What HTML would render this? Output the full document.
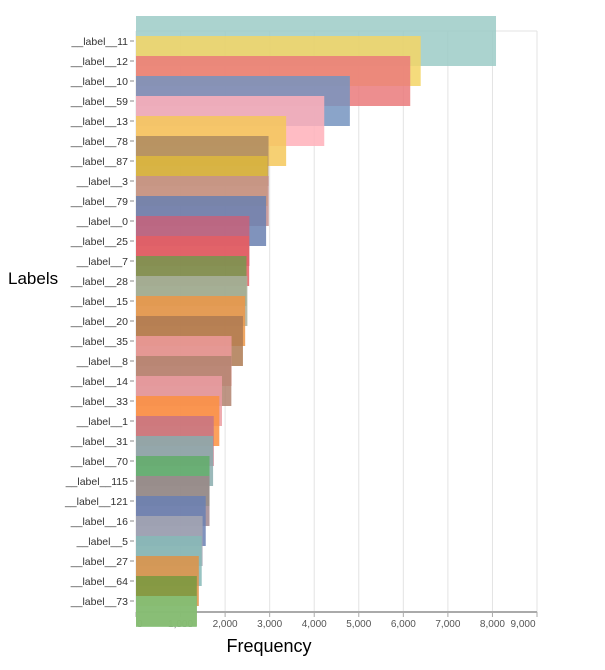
<!DOCTYPE html>
<html><head><meta charset="utf-8"><style>
body{margin:0;background:#fff;}
svg{display:block;font-family:"Liberation Sans",sans-serif;}
</style></head><body>
<svg id="chart" width="605" height="670"></svg>
<script>
const labels=["__label__hidden","__label__11","__label__12","__label__10","__label__59","__label__13","__label__78","__label__87","__label__3","__label__79","__label__0","__label__25","__label__7","__label__28","__label__15","__label__20","__label__35","__label__8","__label__14","__label__33","__label__1","__label__31","__label__70","__label__115","__label__121","__label__16","__label__5","__label__27","__label__64","__label__73"];
const values=[8080,6390,6155,4800,4225,3370,2975,2955,2980,2920,2545,2540,2480,2500,2450,2400,2145,2140,1930,1870,1745,1730,1650,1650,1565,1495,1475,1410,1365,1365];
const colors=["#9ccbc7","#f3d565","#ea7a7b","#7694c0","#ffb0ba","#f5c85a","#ad8a60","#ddb83c","#c4908f","#6a80b0","#c7627a","#e55f63","#76974f","#a9b09e","#ec9646","#ae7a52","#ec9a9b","#b2836f","#eb9ca2","#fb9140","#c57485","#8aadae","#62ad68","#a0878f","#6a80b3","#a6a6b3","#86bab7","#df9245","#77993f","#88c27a"];
const xTicks=[0,1000,2000,3000,4000,5000,6000,7000,8000,9000];
const NS="http://www.w3.org/2000/svg";
const svg=document.getElementById('chart');
const X0=136,X1=537,XMAX=9000,Y0=21,STEP=20,TOP=31,BOT=612;
const x=v=>X0+(v/XMAX)*(X1-X0);
const y=i=>Y0+i*STEP;
function mk(t,a){const e=document.createElementNS(NS,t);for(const k in a)e.setAttribute(k,a[k]);svg.appendChild(e);return e;}
const defs=mk('defs',{});
const cp=document.createElementNS(NS,'clipPath');cp.setAttribute('id','clip');defs.appendChild(cp);
const cr=document.createElementNS(NS,'rect');cr.setAttribute('x',0);cr.setAttribute('y',16);cr.setAttribute('width',605);cr.setAttribute('height',611);cp.appendChild(cr);
let fr=mk('line',{x1:X0,x2:X1,y1:TOP,y2:TOP,stroke:'#e3e3e3','stroke-width':1});


xTicks.forEach(t=>{
  const g=mk('line',{x1:x(t),x2:x(t),y1:TOP,y2:BOT,stroke:'#e3e3e3','stroke-width':1});
  
  
  const tl=mk('text',{x:x(t)+(t===0?1:(t===9000?-14:0)),y:627,'font-size':10,fill:'#555','text-anchor':t===0?'start':'middle'});
  tl.textContent=t.toLocaleString('en-US');
  
  
  const tk=mk('line',{x1:x(t),x2:x(t),y1:BOT,y2:BOT+5,stroke:'#aaa','stroke-width':1});
  
  
});
const ax=mk('line',{x1:X0,x2:X1,y1:BOT,y2:BOT,stroke:'#aaa','stroke-width':2});


labels.forEach((l,i)=>{
  if(i===0)return;
  const t=mk('text',{x:128,y:y(i)+4,'font-size':10.5,fill:'#333','text-anchor':'end'});
  t.textContent=l;
  
  
  const tk=mk('line',{x1:130,x2:134,y1:y(i),y2:y(i),stroke:'#888','stroke-width':1});
  
  
});
const bg=mk('g',{'clip-path':'url(#clip)'});
values.forEach((v,i)=>{
  const r=document.createElementNS(NS,'rect');
  r.setAttribute('x',X0);r.setAttribute('y',y(i)-5);
  r.setAttribute('width',x(v)-X0);r.setAttribute('height',50);
  r.setAttribute('fill',colors[i]);r.setAttribute('opacity',0.85);
  
  
  bg.appendChild(r);
});
const yt=mk('text',{x:8,y:284,'font-size':17,fill:'#000'});yt.textContent='Labels';


const xt=mk('text',{x:269,y:652,'font-size':18,fill:'#000','text-anchor':'middle'});xt.textContent='Frequency';


</script>
</body></html>
